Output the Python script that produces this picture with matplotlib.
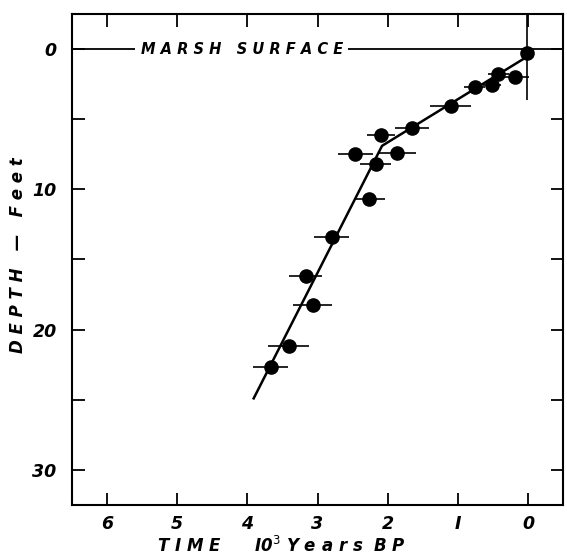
import matplotlib

matplotlib.use("Agg")
import matplotlib.pyplot as plt
from matplotlib.ticker import MultipleLocator

# radiocarbon samples: age (10^3 years BP) vs depth (feet)
sample_age = [0.01, 0.19, 0.42, 0.51, 0.76, 1.10, 1.65, 2.10, 1.87, 2.17,
              2.46, 2.26, 2.80, 3.17, 3.07, 3.41, 3.67]
sample_depth = [0.25, 2.0, 1.75, 2.56, 2.71, 4.04, 5.6, 6.1, 7.4, 8.23,
                7.48, 10.7, 13.4, 16.15, 18.27, 21.2, 22.7]
age_err = [0.0, 0.2, 0.15, 0.13, 0.15, 0.29, 0.24, 0.2, 0.27, 0.22,
           0.25, 0.22, 0.25, 0.24, 0.28, 0.29, 0.25]
# vertical bar on the surface sample (up, down)
top_depth_err = ([3.0], [3.35])

# fitted accumulation curve
curve_age = [0.03, 2.08, 3.91]
curve_depth = [0.6, 6.9, 24.9]

x_ticks = [6, 5, 4, 3, 2, 1, 0]
x_labels = ["6", "5", "4", "3", "2", "I", "0"]
y_ticks = [0, 10, 20, 30]

font = dict(family="DejaVu Sans", style="italic", weight="bold")

fig = plt.figure(figsize=(5.67, 5.58), dpi=100)
ax = fig.add_axes([0.127, 0.095, 0.866, 0.88])

# marsh surface line with its label
ax.axhline(0, color="black", lw=1.3, zorder=1)
ax.text(4.08, 0, "M A R S H   S U R F A C E", fontsize=10.5, ha="center", va="center",
        bbox=dict(facecolor="white", edgecolor="none", pad=4), zorder=2, **font)

ax.plot(curve_age, curve_depth, color="black", lw=1.8, zorder=3)
ax.errorbar(sample_age, sample_depth, xerr=age_err, fmt="o", color="black",
            ms=9.5, elinewidth=1.2, capsize=0, zorder=4)
ax.errorbar(sample_age[:1], sample_depth[:1], yerr=top_depth_err, fmt="none",
            ecolor="black", elinewidth=1.2, capsize=0, zorder=4)

ax.set_xlim(6.5, -0.5)
ax.set_ylim(32.5, -2.5)
ax.set_xticks(x_ticks)
ax.set_xticklabels(x_labels, fontsize=12.5, **font)
ax.set_yticks(y_ticks)
ax.set_yticklabels([str(v) for v in y_ticks], fontsize=12.5, **font)
ax.yaxis.set_minor_locator(MultipleLocator(5))

ax.tick_params(which="both", direction="in", top=True, right=True,
               length=9, width=1.3)
ax.tick_params(axis="x", pad=7)
ax.tick_params(axis="y", pad=11)
for s in ax.spines.values():
    s.set_linewidth(1.5)

fig.text(0.032, 0.543, "D E P T H   —   F e e t", rotation=90, fontsize=12,
         ha="center", va="center", **font)
fig.text(0.496, 0.022, "T I M E      I0$^{3}$ Y e a r s  B P", fontsize=12,
         ha="center", va="center", **font)

fig.savefig("out.png", dpi=100)
